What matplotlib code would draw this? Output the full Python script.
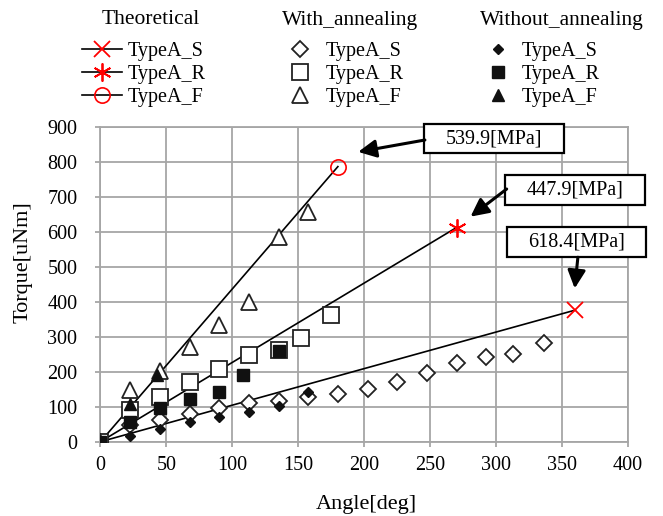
import numpy as np
import matplotlib
matplotlib.use("Agg")
import matplotlib.pyplot as plt
from matplotlib.lines import Line2D
from matplotlib.patches import Rectangle

plt.rcParams['font.family'] = ['Liberation Serif', 'DejaVu Serif']

# theoretical end points (line from origin)
theo_ang = [360, 270, 180]
theo_trq = [376, 612, 786]
theo_names = ['TypeA_S', 'TypeA_R', 'TypeA_F']

# with annealing (open markers)
ang_S_with = [0, 22.5, 45, 67.5, 90, 112.5, 135, 157.5, 180, 202.5, 225, 247.5, 270, 292.5, 313, 336]
trq_S_with = [0, 47, 62, 79, 95, 110, 117, 127, 136, 151, 171, 196, 226, 241, 250, 281]
ang_R_with = [0, 22.5, 45, 67.5, 90, 112.5, 135, 152, 175]
trq_R_with = [0, 92, 127, 172, 207, 247, 262, 295, 362]
ang_F_with = [0, 22.5, 45, 67.5, 90, 112.5, 135, 157.5]
trq_F_with = [0, 148, 203, 270, 333, 400, 586, 657]

# without annealing (filled markers)
ang_S_wo = [0, 22.5, 45, 67.5, 90, 112.5, 135, 157.5]
trq_S_wo = [0, 17, 36, 57, 71, 86, 103, 143]
ang_R_wo = [0, 22.5, 45, 67.5, 90, 108, 135]
trq_R_wo = [0, 57, 95, 121, 141, 192, 260]
ang_F_wo = [0, 22, 43]
trq_F_wo = [0, 107, 192]

# strength notes
notes = ['618.4[MPa]', '447.9[MPa]', '539.9[MPa]']

W, H = 663, 516
fig = plt.figure(figsize=(W / 100, H / 100), dpi=100)
ax = fig.add_axes([100.5 / W, 1 - 441.7 / H, 527.5 / W, 315 / H])

gray = '#a6a6a6'
fs = 14.5

theo_markers = [dict(marker='x', ms=11, mew=1.3),
                dict(marker=(6, 2, 0), ms=13, mew=1.3),
                dict(marker='o', ms=11, mew=1.2, mfc='none')]
theo_handles = []
for a, t, mk in zip(theo_ang, theo_trq, theo_markers):
    ax.plot([0, a], [0, t], color='black', lw=1.2, zorder=2)
    ax.plot([a], [t], linestyle='none', color='red', mec='red', zorder=6, clip_on=False, **mk)
    theo_handles.append(Line2D([], [], color='black', lw=1.2, mec='red', **mk))

open_kw = dict(linestyle='none', mfc='white', mec='#222222', mew=1.3, zorder=3)
h1, = ax.plot(ang_S_with, trq_S_with, marker='D', ms=8.5, **open_kw)
h2, = ax.plot(ang_R_with, trq_R_with, marker='s', ms=11, **open_kw)
h3, = ax.plot(ang_F_with, trq_F_with, marker='^', ms=12, **open_kw)

fill_kw = dict(linestyle='none', color='#111111', zorder=4)
g1, = ax.plot(ang_S_wo, trq_S_wo, marker='D', ms=5.5, **fill_kw)
g2, = ax.plot(ang_R_wo, trq_R_wo, marker='s', ms=8, **fill_kw)
g3, = ax.plot(ang_F_wo, trq_F_wo, marker='^', ms=8, **fill_kw)

ax.set_xlim(0, 400)
ax.set_ylim(0, 900)
ax.set_xticks(np.arange(0, 401, 50))
ax.set_yticks(np.arange(0, 901, 100))
ax.grid(True, color=gray, lw=1.3)
ax.set_axisbelow(True)
for s in ax.spines.values():
    s.set_color(gray)
    s.set_linewidth(1.3)
ax.tick_params(direction='out', length=3.6, width=1.3, color=gray, labelsize=fs)
ax.tick_params(axis='y', pad=13)
ax.tick_params(axis='x', pad=7)

fig.text(23 / W, 1 - 262 / H, 'Torque[uNm]', rotation=90, ha='center', va='center', fontsize=16)
fig.text(366 / W, 1 - 505 / H, 'Angle[deg]', ha='center', va='center', fontsize=16)

# annotation boxes with arrows (box centre, arrow start, arrow tip in data units)
box_c = [(361, 570), (360, 719), (298.6, 866)]
arr_from = [(362, 527), (308, 722), (246, 862)]
arr_to = [(359.6, 438), (280.6, 643), (195.4, 828)]
bw, bh = 106, 85
for txt, c, p0, p1 in zip(notes, box_c, arr_from, arr_to):
    ax.add_patch(Rectangle((c[0] - bw / 2, c[1] - bh / 2), bw, bh, fc='white', ec='black',
                           lw=1.6, clip_on=False, zorder=7))
    ax.text(c[0], c[1], txt, ha='center', va='center', fontsize=fs, zorder=8, clip_on=False)
    ax.annotate('', xy=p1, xytext=p0, annotation_clip=False, zorder=7,
                arrowprops=dict(arrowstyle='-|>,head_length=0.6,head_width=0.3', color='black',
                                lw=2.2, mutation_scale=18, shrinkA=0, shrinkB=0))

# legends: three columns
leg_kw = dict(loc='center left', frameon=False, borderpad=0, borderaxespad=0,
              fontsize=fs, labelspacing=0.2, bbox_transform=fig.transFigure)
l1 = fig.legend(theo_handles, theo_names, bbox_to_anchor=(82 / W, 1 - 74.5 / H),
                handlelength=2.0, handletextpad=0.25, **leg_kw)
l2 = fig.legend([h1, h2, h3], theo_names, bbox_to_anchor=(290 / W, 1 - 74.5 / H),
                handlelength=1.0, handletextpad=0.75, **leg_kw)
l3 = fig.legend([g1, g2, g3], theo_names, bbox_to_anchor=(488 / W, 1 - 74.5 / H),
                handlelength=1.0, handletextpad=0.65, **leg_kw)
for x, t in [(151, 'Theoretical'), (350, 'With_annealing'), (562, 'Without_annealing')]:
    fig.text(x / W, 1 - 20 / H, t, ha='center', va='center', fontsize=15.5)

fig.savefig('out.png', dpi=100)
